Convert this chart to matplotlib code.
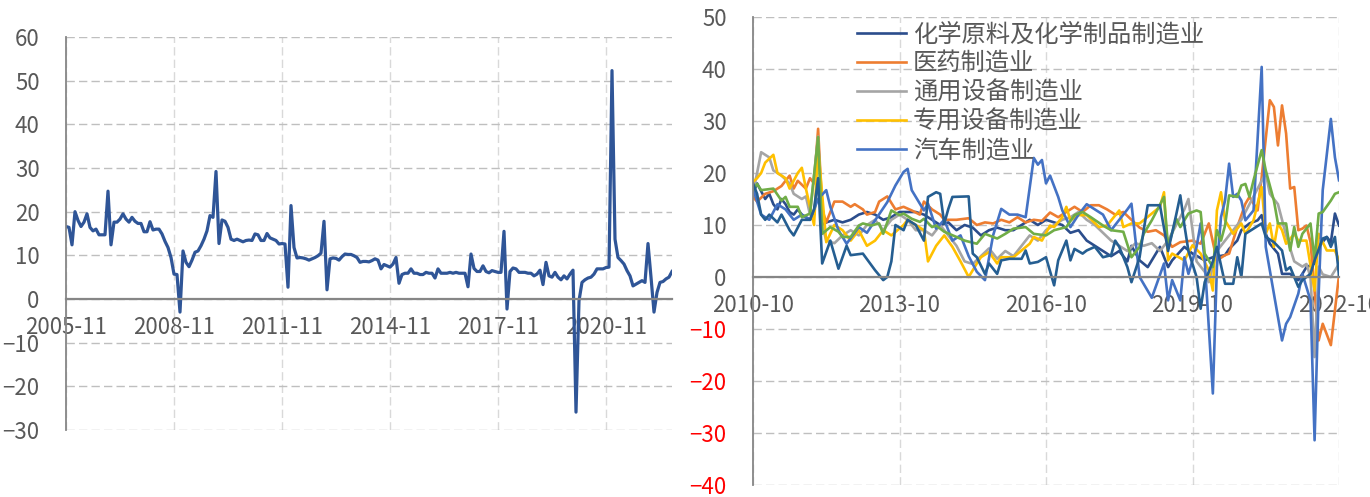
import matplotlib
matplotlib.use('Agg')
import matplotlib.pyplot as plt

plt.rcParams['font.family'] = ['Noto Sans CJK SC', 'DejaVu Sans']

# ---------- left chart: one monthly series, 2005-11 .. 2022-09 ----------
left_ticks = ['2005-11', '2008-11', '2011-11', '2014-11', '2017-11', '2020-11']
left_vals = [
    16.6, 16.4, 12.4, 20.0, 18.0, 16.6, 17.6, 19.5, 16.4, 15.6,
    16.0, 14.7, 14.7, 14.7, 24.7, 12.4, 17.6, 17.6, 18.3, 19.5,
    18.3, 17.6, 18.7, 17.8, 17.3, 17.3, 15.4, 15.4, 17.7, 15.8,
    16.0, 16.0, 14.9, 13.2, 11.8, 9.5, 5.7, 5.6, -3.0, 11.0,
    8.4, 7.4, 8.9, 10.7, 11.0, 12.2, 13.7, 15.6, 19.1, 18.7,
    29.2, 12.7, 18.1, 17.8, 16.4, 13.7, 13.4, 13.7, 13.4, 13.1,
    13.4, 13.5, 13.4, 14.9, 14.7, 13.4, 13.4, 15.0, 14.0, 13.7,
    13.4, 12.6, 12.7, 12.6, 2.7, 21.4, 11.8, 9.4, 9.5, 9.4,
    9.2, 8.9, 9.2, 9.5, 9.9, 10.5, 17.8, 2.1, 9.2, 9.4,
    9.3, 8.9, 9.7, 10.3, 10.2, 10.2, 9.9, 9.5, 8.4, 8.6,
    8.6, 8.5, 8.8, 9.2, 8.9, 6.9, 7.9, 7.6, 7.3, 8.0,
    9.5, 3.6, 5.6, 5.9, 5.9, 6.9, 5.9, 5.9, 5.6, 5.6,
    6.1, 5.9, 5.9, 4.8, 6.9, 5.9, 5.9, 5.9, 6.1, 5.9,
    6.1, 5.9, 5.9, 5.9, 2.8, 10.3, 7.0, 6.3, 6.3, 7.6,
    6.3, 6.0, 6.5, 6.3, 6.1, 6.1, 15.5, -2.3, 6.3, 7.1,
    6.9, 6.1, 6.1, 6.1, 5.9, 5.9, 5.3, 5.7, 6.6, 3.3,
    8.4, 5.3, 5.0, 6.1, 5.0, 4.4, 5.3, 4.6, 5.7, 6.6,
    -25.9, -0.4, 3.8, 4.4, 4.8, 5.0, 5.7, 6.9, 6.9, 6.9,
    7.2, 7.3, 52.3, 13.7, 9.5, 8.8, 8.0, 6.5, 5.3, 3.0,
    3.4, 3.8, 4.2, 3.8, 12.7, 5.0, -3.0, 1.5, 3.8, 4.0,
    4.6, 5.0, 6.3,
]

# ---------- right chart: (month index from 2010-10, value) ----------
right_ticks = ['2010-10', '2013-10', '2016-10', '2019-10', '2022-10']
names = ['化学原料及化学制品制造业', '医药制造业', '通用设备制造业', '专用设备制造业', '汽车制造业']

chem = [(0, 16), (1, 18), (2, 16.5), (3, 15), (4, 16), (5, 14), (6, 13), (7, 15), (8, 14), (9, 12.5),
        (10, 12), (11, 13), (12, 12), (13, 11.5), (14, 11), (15, 12), (16, 19), (17, 10), (18, 10.5),
        (20, 11), (22, 10.5), (24, 11), (26, 12), (28, 12.5), (30, 12), (32, 11), (34, 11.5), (36, 12.5),
        (38, 12.5), (40, 12.5), (42, 12), (44, 11), (46, 10), (48, 10.5), (50, 9), (52, 10), (54, 9.5),
        (56, 8), (58, 9), (60, 9.5), (62, 9), (64, 9), (66, 10), (68, 11), (70, 10), (72, 11), (74, 10.5),
        (76, 10), (78, 8.5), (80, 9), (82, 7), (84, 6), (86, 5), (88, 4), (90, 5), (92, 3), (93, 6),
        (95, 3.2), (97, 1.9), (98, 3.2), (100, 5.8), (102, 1.9), (103, 3.2), (106, 5.8), (108, 4.5),
        (111, 3.2), (113, 3.8), (116, 4.2), (117, 5.4), (119, 7), (120, 9), (122, 10.3), (124, 10.9),
        (125, 11.9), (126, 8.3), (127, 6.4), (129, 4.5), (130, 0.6), (132, 0.6), (134, -0.6), (135, 0.6),
        (136, 1.9), (138, 2.6), (139, 5.8), (141, 7.7), (142, 6.7), (143, 12.2), (144, 9.9)]

pharma = [(0, 15.4), (1, 14.5), (3, 16), (5, 16.5), (7, 17.5), (9, 19.5), (10, 17), (11, 18.5), (13, 17),
          (14, 19), (15, 18), (16, 28.5), (17, 13), (18, 10.5), (20, 14.5), (22, 14.5), (24, 13.5), (25, 14),
          (27, 13), (28, 12), (30, 12.5), (31, 14.5), (33, 15.5), (35, 13), (37, 13.5), (39, 12.8), (41, 12),
          (42, 14.5), (44, 13), (46, 12), (47, 11), (50, 11), (53, 11.3), (55, 10), (57, 10.5), (59, 10.3),
          (61, 11), (63, 10.5), (65, 11.5), (67, 10.5), (69, 11), (71, 10.8), (73, 12.4), (75, 11.5),
          (77, 12.5), (79, 13.5), (81, 12.5), (83, 13.8), (85, 13.8), (87, 13), (89, 12), (91, 12.5),
          (93, 11), (95, 9.5), (97, 8.7), (99, 9), (101, 8), (103, 5.8), (105, 6.7), (108, 7), (110, 6.4),
          (112, 10.3), (114, 3.2), (116, 4.2), (117, 4.5), (119, 9.6), (121, 14.1), (122, 15.4), (124, 12.8),
          (125, 19.2), (127, 34), (128, 32.7), (129, 25.3), (130, 33), (131, 27.6), (132, 17), (133, 17.3),
          (134, 9), (135, 9.3), (136, 9.9), (137, 6.7), (139, -12.2), (140, -9), (142, -13.1), (144, 0.3)]

general = [(0, 16), (2, 24), (4, 23), (5, 20.5), (7, 19.5), (9, 18), (10, 16), (12, 15), (13, 15.5), (14, 12),
           (16, 27), (17, 10), (18, 7), (20, 6.5), (22, 8), (24, 9), (26, 8), (28, 10), (30, 11), (32, 9),
           (34, 11), (36, 12), (38, 11), (40, 9), (42, 9), (44, 8), (46, 10), (48, 8), (50, 6), (52, 3),
           (54, 2.5), (56, 4), (58, 5.5), (60, 3.5), (62, 5), (64, 4), (66, 6), (68, 8), (70, 7), (72, 9),
           (74, 10), (76, 11), (78, 11.5), (80, 12.5), (82, 11), (84, 10), (86, 8.5), (88, 7), (90, 6),
           (92, 5), (94, 6.5), (96, 6), (98, 6.5), (100, 5), (102, 7), (104, 10), (106, 13), (107, 15),
           (109, 3), (111, 1), (112, -1), (114, 5), (116, 7), (118, 9), (120, 11), (122, 14), (124, 17),
           (126, 20), (127, 16), (129, 14), (131, 8), (133, 3), (135, 2), (136, 2.5), (137, 0), (138, -15.4),
           (139, 2), (140, 0.5), (142, 0), (144, 2.5)]

special = [(0, 18.3), (1, 19), (2, 20), (3, 22), (5, 23.5), (6, 20), (8, 19), (9, 17), (11, 20), (12, 21),
           (13, 17), (15, 10), (16, 25), (18, 6.7), (20, 10), (22, 9), (24, 7), (26, 9), (28, 6), (30, 7),
           (32, 9), (34, 8), (37, 10), (38, 11), (40, 10), (42, 9), (43, 3), (45, 6), (47, 8), (49, 5.8),
           (51, 3), (53, 0), (55, 2.6), (56, 3.8), (58, 4.8), (60, 2.6), (61, 3.8), (64, 3.8), (66, 5.1),
           (68, 6.4), (69, 7.7), (71, 7), (73, 9.9), (74, 9.6), (76, 11.5), (77, 13.5), (78, 10.9), (80, 11.9),
           (82, 11.9), (85, 9.6), (87, 9.9), (90, 12.8), (91, 9.6), (93, 10.3), (95, 10.3), (98, 12.2),
           (100, 13.5), (101, 16.3), (102, 3.2), (103, 4.5), (106, 3.2), (108, 6.1), (110, 4.5), (112, 1.3),
           (113, -2.6), (114, 12.8), (115, 16.3), (116, 10.9), (117, 9.6), (118, 8.3), (120, 10.3), (121, 8.3),
           (123, 10.9), (125, 17.3), (126, 8.3), (127, 10.3), (128, 5.8), (129, 10.3), (130, 9), (131, 6.4),
           (133, 8.3), (134, 7), (136, 7), (138, -2.6), (139, 8.3), (141, 5.1), (143, 5.1), (144, 3.2)]

auto = [(0, 17), (2, 12), (4, 11), (6, 14), (8, 13), (10, 11), (12, 12), (14, 11), (16, 15), (18, 16.7),
        (19, 13.5), (21, 9), (23, 6.4), (26, 9.6), (28, 8.5), (30, 10.9), (33, 14.4), (35, 17.6), (37, 20.2),
        (38, 20.8), (39, 16.7), (42, 12.8), (43, 14.1), (45, 9.3), (47, 11), (49, 7), (51, 8), (53, 4),
        (55, 1), (57, -0.6), (59, 8), (61, 13.1), (63, 12), (65, 12), (67, 11.5), (69, 22.9), (70, 21.6),
        (71, 22.5), (72, 18), (73, 19.5), (75, 15.4), (76, 12.8), (78, 9.6), (80, 12), (82, 14), (84, 13),
        (86, 12), (88, 9), (90, 11), (92, 13), (93, 14.1), (95, 0), (98, -4), (101, 2.6), (102, -4.5),
        (103, -0.6), (105, -4.5), (106, 3.8), (107, 0.6), (109, 5.8), (110, 10.3), (111, 3.2), (113, -22.4),
        (114, 1.9), (115, 11.5), (116, 14.7), (117, 21.8), (118, 15.4), (119, 16), (120, 14.7), (121, 10.9),
        (123, 12.8), (125, 40.4), (126, 5.8), (128, -3.2), (130, -12.2), (131, -9), (132, -7.7), (134, -3.2),
        (135, 0.6), (137, -4.5), (138, -31.4), (139, -3.2), (140, 16.7), (142, 30.4), (143, 23), (144, 18.6)]

extra_green = [(0, 16.7), (1, 17.9), (2, 16.7), (5, 17), (7, 14.7), (8, 15.4), (9, 13.5), (11, 13.5),
               (12, 11.5), (14, 12.2), (16, 26.9), (17, 8.3), (19, 9.6), (21, 8.7), (22, 7.7), (24, 7.7),
               (26, 9.9), (27, 10.3), (29, 9.9), (31, 10.3), (32, 8.3), (34, 12.8), (36, 11.9), (37, 12.2),
               (39, 11.2), (41, 10.6), (42, 11.2), (44, 9.6), (45, 9.9), (47, 8.7), (50, 7.7), (52, 7),
               (55, 6.4), (57, 8.3), (60, 7.4), (62, 8.3), (64, 9.3), (67, 9.6), (69, 8.3), (72, 8), (74, 9),
               (77, 9.6), (79, 11.9), (81, 12.5), (83, 11.5), (86, 9.9), (88, 9), (91, 8.7), (93, 3.8),
               (95, 5.8), (96, 8.3), (98, 10.9), (101, 15.4), (102, 5.8), (104, 11.2), (105, 9.6), (107, 12.2),
               (109, 12.8), (110, 12.5), (111, 4.5), (113, 1.9), (114, 9), (115, 7), (116, 9.9), (117, 15.7),
               (119, 15.4), (120, 17.6), (121, 17.9), (122, 15.4), (123, 18.6), (125, 24.4), (126, 20.5),
               (128, 14.7), (129, 10.3), (131, 10.3), (132, 5.1), (133, 9.6), (134, 5.8), (135, 8.3),
               (137, 10.3), (138, 3.2), (139, 12.2), (140, 12.5), (142, 14.7), (143, 16), (144, 16.3)]

extra_teal = [(0, 18), (1, 16), (2, 12), (3, 11), (4, 12), (6, 10.5), (7, 12), (9, 9), (10, 8), (12, 11),
              (14, 11), (15, 13), (16, 19), (17, 2.6), (19, 7), (21, 1.6), (23, 6), (24, 4.2), (27, 4.5),
              (30, 1.3), (32, -0.6), (33, 0), (34, 3), (35, 10), (37, 9), (38, 11), (40, 10), (42, 7),
              (43, 15.4), (45, 16.3), (46, 16), (47, 10.3), (48, 13.1), (49, 15.4), (53, 15.5), (54, 4.5),
              (55, 3.8), (57, 0.6), (58, 2.6), (60, 0.6), (61, 3.2), (63, 3.5), (66, 3.5), (67, 5.1),
              (68, 2.6), (70, 2.9), (72, 3.8), (74, -1.6), (75, 3.2), (77, 7), (78, 3.2), (79, 5.4), (81, 4.5),
              (82, 5.1), (84, 5.8), (86, 3.8), (88, 4.2), (89, 7), (90, 5.8), (92, 1.9), (93, -1), (95, 3.8),
              (96, 9), (97, 13.8), (100, 13.8), (102, 5), (104, 12), (105, 15.7), (106, 10), (107, 5), (109, 0),
              (110, -6.1), (111, -1), (113, 3), (114, 5.8), (116, -1.3), (118, -1.3), (119, 3.8), (120, 0),
              (121, 8.3), (123, 9.3), (125, 10.3), (126, 7.7), (128, 6.7), (130, 5.1), (131, 1.3), (132, 1.9),
              (134, -1.9), (135, -0.6), (137, 0.6), (138, 3.2), (140, 7.4), (141, 7.7), (142, 5.8), (143, 7.7),
              (144, 0.3)]

series = [chem, pharma, general, special, auto, extra_green, extra_teal]
colors = ['#2B4D8C', '#ED7D31', '#A5A5A5', '#FFC000', '#4472C4', '#70AD47', '#255E91']

TXT = '#595959'
AXC = '#868686'

fig = plt.figure(figsize=(13.7, 4.97), dpi=100)


def style_axes(ax, xticks, xlabels, yticks):
    for s in ['top', 'right']:
        ax.spines[s].set_visible(False)
    ax.spines['left'].set_color(AXC)
    ax.spines['left'].set_linewidth(1.3)
    ax.spines['bottom'].set_position(('data', 0))
    ax.spines['bottom'].set_color(AXC)
    ax.spines['bottom'].set_linewidth(1.6)
    ax.set_xticks(xticks)
    ax.set_xticklabels(xlabels)
    ax.set_yticks(yticks)
    ax.tick_params(axis='x', length=0, pad=12, labelsize=16, labelcolor=TXT)
    ax.tick_params(axis='y', length=0, pad=19, labelsize=16, labelcolor=TXT)
    ax.yaxis.grid(True, color='#BFBFBF', linestyle=(0, (6, 3)), linewidth=1.0)
    ax.xaxis.grid(True, color='#D9D9D9', linestyle=(0, (6, 3)), linewidth=1.0)
    ax.set_axisbelow(True)


# ---------- left ----------
ax1 = fig.add_axes([66 / 1370, 1 - 430 / 497, (672 - 66) / 1370, (430 - 37) / 497])
ax1.plot(range(len(left_vals)), left_vals, color='#2F5597', lw=2.3, solid_joinstyle='round')
ax1.set_xlim(0, len(left_vals) - 1)
ax1.set_ylim(-30, 60)
style_axes(ax1, [36 * i for i in range(len(left_ticks))], left_ticks, range(-30, 61, 10))

# ---------- right ----------
ax2 = fig.add_axes([753 / 1370, 1 - 485 / 497, (1339 - 753) / 1370, (485 - 17) / 497])
lines = []
for data, c in zip(series, colors):
    m, v = zip(*data)
    ln, = ax2.plot(m, v, color=c, lw=1.9, solid_joinstyle='round')
    lines.append(ln)
ax2.set_xlim(0, 144)
ax2.set_ylim(-40, 50)
yt = list(range(-40, 51, 10))
style_axes(ax2, [36 * i for i in range(len(right_ticks))], right_ticks, yt)
for lbl, val in zip(ax2.get_yticklabels(), yt):
    lbl.set_color('#FF0000' if val < 0 else TXT)

ax2.legend(lines[:5], names, loc='upper left', bbox_to_anchor=(0.1775, 0.99),
           frameon=False, borderaxespad=0, borderpad=0, handlelength=2.0,
           handletextpad=0.3, labelspacing=0.12, fontsize=17.5, labelcolor=TXT)

fig.savefig('out.png', dpi=100)
